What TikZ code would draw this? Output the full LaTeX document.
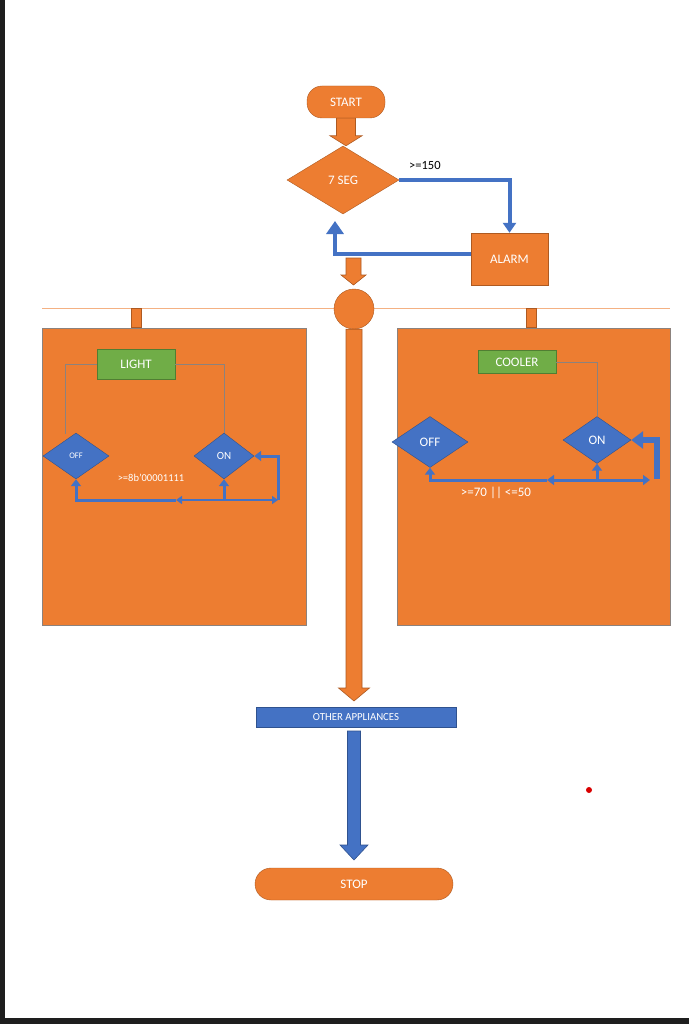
\documentclass[tikz,border=0pt]{standalone}
\usepackage{fontspec}
\setmainfont{Carlito}
\usepackage{tikz}
\usetikzlibrary{
  shapes.geometric,
  arrows.meta,
  calc
}
\definecolor{boxorange}{RGB}{237, 125, 49}
\definecolor{orangeedge}{RGB}{174, 90, 33}
\definecolor{flowblue}{RGB}{68, 114, 196}
\definecolor{blueedge}{RGB}{47, 82, 143}
\definecolor{devgreen}{RGB}{112, 173, 71}
\definecolor{greenedge}{RGB}{80, 126, 50}
\definecolor{wiregray}{RGB}{140, 130, 125}
\definecolor{railorange}{RGB}{244, 177, 131}
\definecolor{framedark}{RGB}{30, 30, 30}
\newcommand{\px}[1]{\fontsize{#1pt}{#1pt}\selectfont}
% vertical block arrow: style, from, to, half shaft, half head, head length
\newcommand{\fatarrow}[6]{%
  \draw[#1] let \p1=(#2), \p2=(#3) in
    (\x1-#4,\y1) -- (\x1-#4,\y2+#6) -- (\x1-#5,\y2+#6) -- (\x1,\y2)
    -- (\x1+#5,\y2+#6) -- (\x1+#4,\y2+#6) -- (\x1+#4,\y1) -- cycle;}
\tikzset{
shapetext/.style={
  align=center,
  text=white,
  font=\px{13},
  inner sep=0pt
},
terminal/.style={
  draw=orangeedge,
  fill=boxorange,
  rounded corners=15pt,
  minimum height=32pt,
  shapetext
},
decision/.style={
  diamond,
  draw=orangeedge,
  fill=boxorange,
  minimum width=112pt,
  minimum height=68pt,
  shapetext
},
process/.style={
  draw=orangeedge,
  fill=boxorange,
  minimum width=77pt,
  minimum height=52pt,
  shapetext
},
hubcircle/.style={
  circle,
  draw=orangeedge,
  fill=boxorange,
  minimum size=40pt,
  inner sep=0pt
},
container/.style={
  draw=wiregray,
  fill=boxorange,
  line width=0.5pt,
  minimum height=297pt,
  inner sep=0pt
},
devicebox/.style={
  draw=greenedge,
  fill=devgreen,
  minimum width=78pt,
  shapetext
},
statebox/.style={
  diamond,
  draw=blueedge,
  fill=flowblue,
  shapetext
},
bluebar/.style={
  draw=blueedge,
  fill=flowblue,
  minimum width=200pt,
  minimum height=20pt,
  shapetext,
  font=\px{10.8}
},
condlabel/.style={
  text=white,
  font=\px{10.5},
  inner sep=0pt
},
wire/.style={
  draw=wiregray,
  line width=0.8pt
},
flow/.style={
  draw=flowblue,
  line width=4pt,
  -{Triangle[length=10pt,width=13pt]}
},
flowthin/.style={
  draw=flowblue,
  line width=3pt,
  -{Triangle[length=7pt,width=10pt]}
},
orangeblock/.style={
  draw=orangeedge,
  fill=boxorange,
  line width=0.6pt
},
blueblock/.style={
  draw=blueedge,
  fill=flowblue,
  line width=0.6pt
}
}

\begin{document}
\begin{tikzpicture}[x=1pt, y=-1pt]
  \useasboundingbox (0,0) rectangle (689,1024);
  \fill[white] (0,0) rectangle (689,1024);
  \fill[framedark] (0,0) rectangle (5,1024);
  \fill[framedark] (0,1018) rectangle (689,1024);

  % main flow
  \node[terminal, minimum width=78pt] (start) at (346,102) {START};
  \node[decision] (seg) at (343,180) {7 SEG};
  \node[process] (alarm) at (509.5,259) {ALARM};
  \node[anchor=west, font=\px{12.5}, inner sep=0pt] (limit) at (409,165) {>=150};

  \draw[flow] (seg.east) -| (alarm.north);
  \coordinate (segback) at (335,221);
  \draw[flow, -{Triangle[length=13pt,width=17pt]}] ([yshift=5pt]alarm.west) -| (segback);

  \fatarrow{orangeblock}{start.south}{seg.north}{9.5pt}{16pt}{10pt}

  \draw[railorange, line width=0.8pt] (42,308) -- (670,308);
  \node[hubcircle] (hub) at (354,309) {};
  \coordinate (segout) at (353.5,258);
  \coordinate (hubin) at (353.5,285);
  \fatarrow{orangeblock}{segout}{hubin}{7.5pt}{12.5pt}{10pt}

  % light block
  \node[container, minimum width=264pt] (lightbox) at (174,476.5) {};
  \coordinate (lstub) at (136,308);
  \draw[orangeblock] (lstub) ++(-5,0) rectangle ($(lightbox.north -| lstub)+(5,0)$);
  \node[devicebox, minimum height=30pt] (light) at (136,364) {LIGHT};
  \node[statebox, minimum width=66pt, minimum height=46pt, font=\px{8.5}] (loff) at (76,456) {OFF};
  \node[statebox, minimum width=60pt, minimum height=46pt, font=\px{11}] (lon) at (224,456) {ON};
  \node[condlabel] (lcond) at (151,478) {>=8b'00001111};
  \coordinate (lofftop) at (65,434);
  \draw[wire] (light.west) -| (lofftop);
  \draw[wire] (light.east) -| (lon.north);
  \coordinate (lj) at (176,500);
  \coordinate (lr) at (278,500);
  \draw[flowthin] (lj) -| (loff.south);
  \draw[flowthin, line width=2.2pt, {Triangle[length=6pt,width=8pt]}-{Triangle[length=6pt,width=8pt]}] (lj) -- (lr);
  \draw[flowthin] (lon.south |- lj) -- (lon.south);
  \draw[flowthin] (lr) |- (lon.east);

  % cooler block
  \node[container, minimum width=273pt] (coolbox) at (533.5,476.5) {};
  \coordinate (cstub) at (531,308);
  \draw[orangeblock] (cstub) ++(-5,0) rectangle ($(coolbox.north -| cstub)+(5,0)$);
  \node[devicebox, minimum height=23pt] (cooler) at (517,362) {COOLER};
  \node[statebox, minimum width=76pt, minimum height=51pt] (coff) at (430,442) {OFF};
  \node[statebox, minimum width=68pt, minimum height=47pt] (con) at (597,440) {ON};
  \node[condlabel, font=\px{13}] (ccond) at (496,493) {>=70 || <=50};
  \draw[wire] (cooler.east) -| (con.north);
  \coordinate (cj) at (547,480);
  \coordinate (cr) at (650,480);
  \coordinate (cloop) at (657,479);
  \draw[flowthin] (cj) -| (coff.south);
  \draw[flowthin, {Triangle[length=7pt,width=10pt]}-{Triangle[length=7pt,width=10pt]}] (cj) -- (cr);
  \draw[flowthin] (con.south |- cj) -- (con.south);
  \draw[flow, line width=6pt, -{Triangle[length=12pt,width=17pt]}] (cloop) |- (con.east);

  % tail
  \node[bluebar] (apps) at (356,717) {OTHER APPLIANCES};
  \coordinate (appsin) at (355.5,701);
  \fatarrow{orangeblock}{hub.south}{appsin}{8pt}{15.5pt}{13pt}
  \node[terminal, minimum width=198pt, rounded corners=16pt] (stop) at (354,884) {STOP};
  \coordinate (appsout) at (354,731);
  \coordinate (stopin) at (354,860);
  \fatarrow{blueblock}{appsout}{stopin}{6.5pt}{14pt}{15pt}

  \fill[red!85!black] (589,790) circle (3);
\end{tikzpicture}
\end{document}
